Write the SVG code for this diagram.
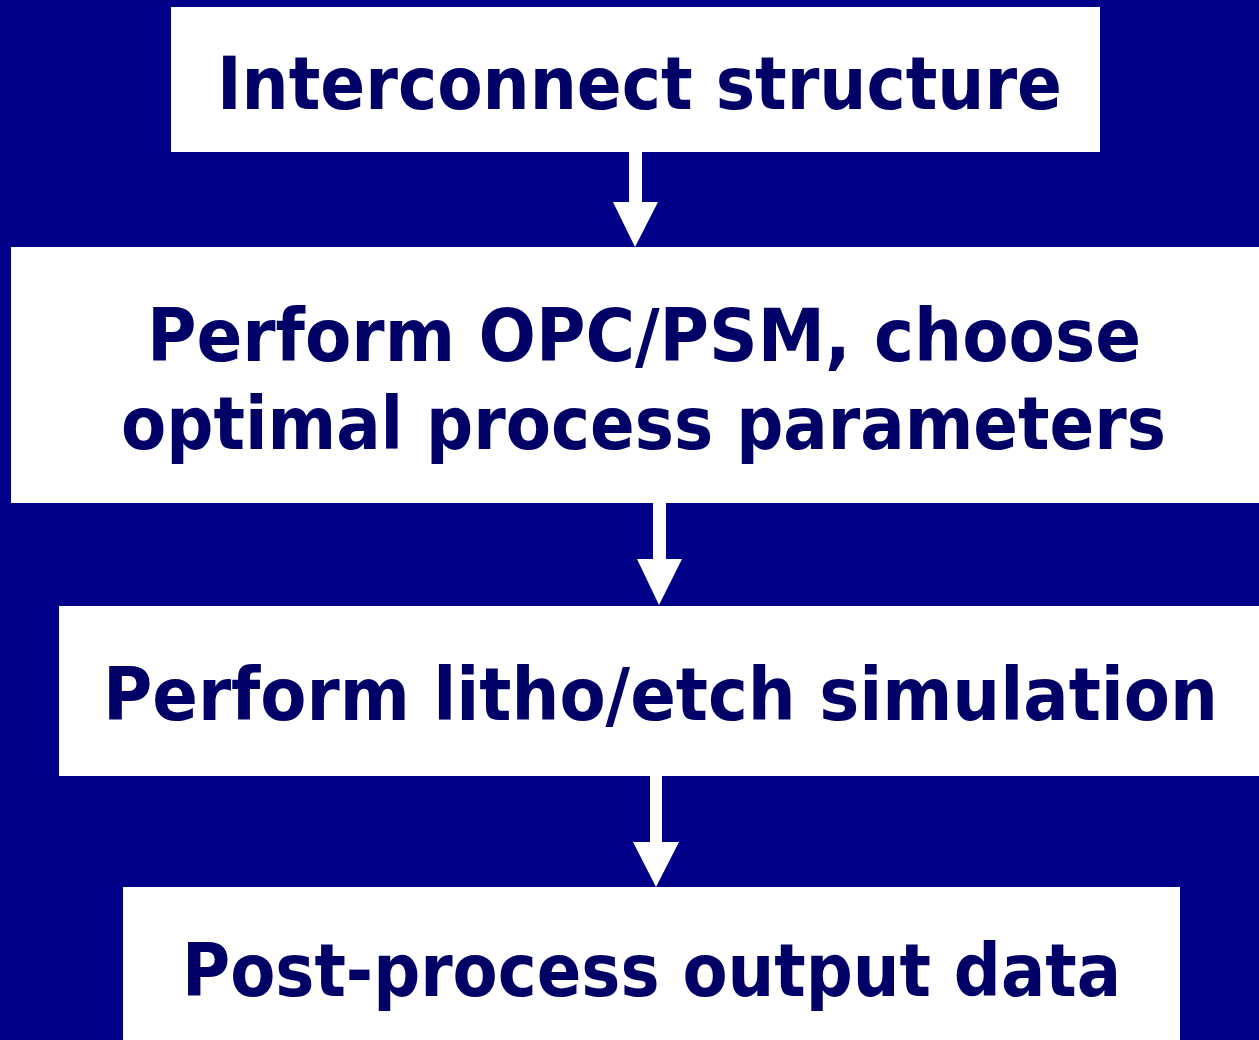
<svg xmlns="http://www.w3.org/2000/svg" width="1259" height="1040" viewBox="0 0 1259 1040">
<style>
.box{fill:#ffffff}
.lbl{font-family:"DejaVu Sans Condensed","DejaVu Sans",sans-serif;font-weight:bold;font-size:73px;fill:#000066}
.arr{fill:#ffffff}
</style>
<rect x="0" y="0" width="1259" height="1040" fill="#000088"/>
<g id="connectors">
<polygon class="arr" points="629,152 642,152 642,202 658,202 635,247 613,202 629,202"/>
<polygon class="arr" points="653,503 666,503 666,559 682,559 659,605 637,559 653,559"/>
<polygon class="arr" points="650,775 662,775 662,842 679,842 656,887 633,842 650,842"/>
</g>
<g id="node1">
<rect class="box" x="171" y="7" width="929" height="145"/>
<text class="lbl" x="217" y="109" textLength="845" lengthAdjust="spacingAndGlyphs">Interconnect structure</text>
</g>
<g id="node2">
<rect class="box" x="11" y="247" width="1248" height="256"/>
<text class="lbl" x="147" y="361" textLength="994" lengthAdjust="spacingAndGlyphs">Perform OPC/PSM, choose</text>
<text class="lbl" x="121" y="449" textLength="1045" lengthAdjust="spacingAndGlyphs">optimal process parameters</text>
</g>
<g id="node3">
<rect class="box" x="59" y="606" width="1200" height="170"/>
<text class="lbl" x="103" y="720" textLength="1115" lengthAdjust="spacingAndGlyphs">Perform litho/etch simulation</text>
</g>
<g id="node4">
<rect class="box" x="123" y="887" width="1057" height="153"/>
<text class="lbl" x="182" y="996" textLength="939" lengthAdjust="spacingAndGlyphs">Post-process output data</text>
</g>
</svg>
